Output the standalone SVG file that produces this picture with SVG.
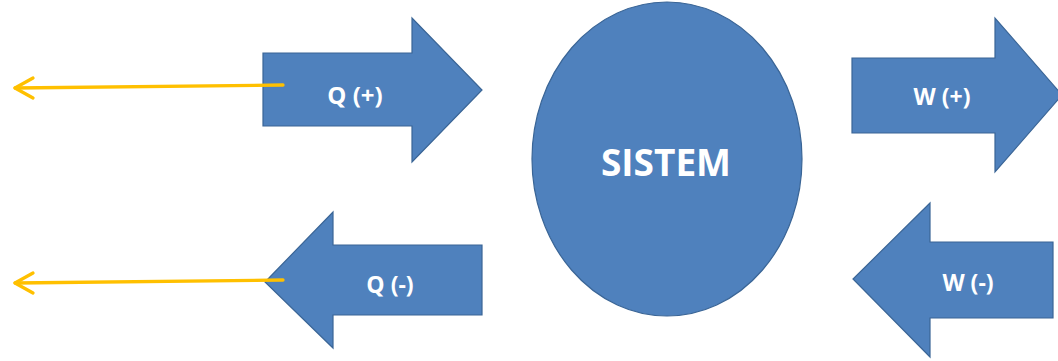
<svg xmlns="http://www.w3.org/2000/svg" width="1058" height="361" viewBox="0 0 1058 361">
  <style>
    .shape { fill: #4F81BD; stroke: #3A6596; stroke-width: 1.2; }
    .lbl { fill: #FFFFFF; font-family: "Open Sans", "Liberation Sans", sans-serif; font-weight: bold; text-anchor: middle; dominant-baseline: central; }
    .conn { stroke: #FFC000; stroke-width: 3.3; fill: none; stroke-linecap: round; stroke-linejoin: round; }
  </style>
  <rect width="1058" height="361" fill="#FFFFFF"/>

  <g id="node-q-plus">
    <polygon class="shape" points="263,53 412,53 412,18 482,90 412,162 412,126 263,126"/>
    <text class="lbl" x="355" y="94" font-size="24">Q (+)</text>
  </g>

  <g id="node-q-minus">
    <polygon class="shape" points="482,245 333,245 333,212 265,282 333,348 333,315 482,315"/>
    <text class="lbl" x="390" y="284" font-size="23">Q (-)</text>
  </g>

  <g id="node-sistem">
    <ellipse class="shape" cx="667" cy="159" rx="135" ry="157"/>
    <text class="lbl" x="666" y="161" font-size="37">SISTEM</text>
  </g>

  <g id="node-w-plus">
    <polygon class="shape" points="852,58 995,58 995,18 1062,95 995,172 995,133 852,133"/>
    <text class="lbl" x="942" y="96" font-size="23">W (+)</text>
  </g>

  <g id="node-w-minus">
    <polygon class="shape" points="1053,242 930,242 930,203 853,279 930,357 930,318 1053,318"/>
    <text class="lbl" x="968" y="282" font-size="23">W (-)</text>
  </g>

  <g id="connectors">
    <path class="conn" d="M283,85 L15,88"/>
    <path class="conn" d="M33,78 L15,88 L33,98"/>
    <path class="conn" d="M283,280 L15,283"/>
    <path class="conn" d="M33,273 L15,283 L33,293"/>
  </g>
</svg>
